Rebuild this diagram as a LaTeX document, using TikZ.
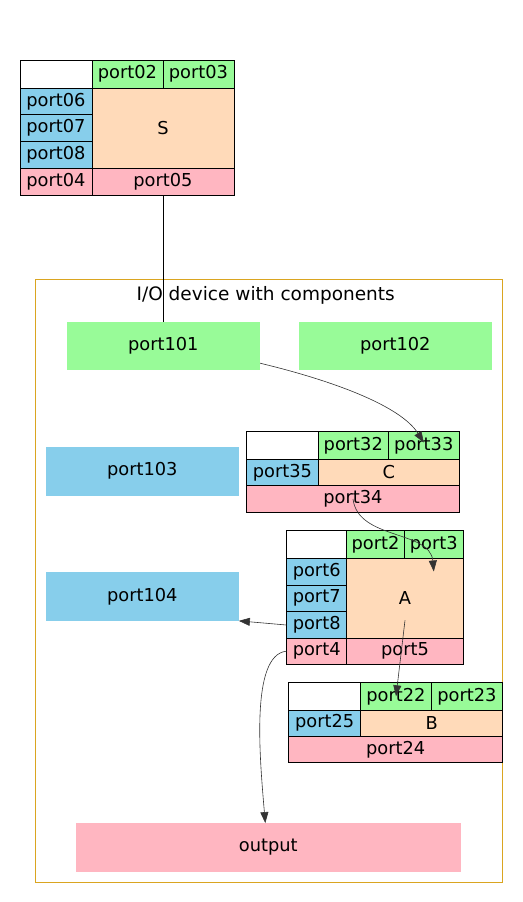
\documentclass[tikz,border=0pt]{standalone}
\usepackage{fontspec}
\setmainfont{DejaVu Sans}
\usetikzlibrary{arrows.meta,calc}
\definecolor{pgreen}{HTML}{98FB98}
\definecolor{pblue}{HTML}{87CEEB}
\definecolor{ppink}{HTML}{FFB6C1}
\definecolor{ppeach}{HTML}{FFDAB9}
\definecolor{gold}{HTML}{DAA520}
\begin{document}
\begin{tikzpicture}[x=1pt,y=-1pt,
  font=\fontsize{17.8}{20}\selectfont,
  cell/.style={draw=black, line width=0.8pt, inner sep=0pt, anchor=center},
  plain/.style={inner sep=0pt, anchor=center},
  edgeline/.style={draw=black!80, line width=0.6pt},
  arr/.style={edgeline, -{Triangle[length=11pt,width=8pt]}, black!80}]
\useasboundingbox (0,0) rectangle (522,902);

% cluster
\draw[gold, line width=0.8pt] (35,279) rectangle (502,882);
\node[plain, font=\fontsize{18.5}{20}\selectfont] (clabel) at (265.7,295) {I/O device with components};

% S record
\node[cell, fill=white, minimum width=72pt, minimum height=28pt] (s0) at (56,74) {};
\node[cell, fill=pgreen, minimum width=71pt, minimum height=28pt] (port02) at (127.5,74) {port02};
\node[cell, fill=pgreen, minimum width=71pt, minimum height=28pt] (port03) at (198.5,74) {port03};
\node[cell, fill=pblue, minimum width=72pt, minimum height=26.67pt] (port06) at (56,101.33) {port06};
\node[cell, fill=pblue, minimum width=72pt, minimum height=26.67pt] (port07) at (56,128) {port07};
\node[cell, fill=pblue, minimum width=72pt, minimum height=26.67pt] (port08) at (56,154.67) {port08};
\node[cell, fill=ppeach, minimum width=142pt, minimum height=80pt] (recS) at (163,128) {S};
\node[cell, fill=ppink, minimum width=72pt, minimum height=27pt] (port04) at (56,181.5) {port04};
\node[cell, fill=ppink, minimum width=142pt, minimum height=27pt] (port05) at (163,181.5) {port05};

% plain ports
\node[plain, fill=pgreen, minimum width=193.3pt, minimum height=48pt] (port101) at (163.3,346) {port101};
\node[plain, fill=pgreen, minimum width=193.3pt, minimum height=48pt] (port102) at (395.3,346) {port102};
\node[plain, fill=pblue, minimum width=192.7pt, minimum height=49pt] (port103) at (142.3,471.2) {port103};
\node[plain, fill=pblue, minimum width=192.7pt, minimum height=48.7pt] (port104) at (142.3,596.3) {port104};
\node[plain, fill=ppink, minimum width=384.7pt, minimum height=48.4pt] (output) at (268.3,847.5) {output};

% C record
\node[cell, fill=white, minimum width=71.6pt, minimum height=27.6pt] (c0) at (282.5,445.5) {};
\node[cell, fill=pgreen, minimum width=70pt, minimum height=27.6pt] (port32) at (353.3,445.5) {port32};
\node[cell, fill=pgreen, minimum width=71pt, minimum height=27.6pt] (port33) at (423.8,445.5) {port33};
\node[cell, fill=pblue, minimum width=71.6pt, minimum height=26.4pt] (port35) at (282.5,472.5) {port35};
\node[cell, fill=ppeach, minimum width=141pt, minimum height=26.4pt] (recC) at (388.8,472.5) {C};
\node[cell, fill=ppink, minimum width=212.6pt, minimum height=26.6pt] (port34) at (353,499) {port34};

% A record
\node[cell, fill=white, minimum width=60pt, minimum height=27.6pt] (a0) at (316.7,544.5) {};
\node[cell, fill=pgreen, minimum width=57.6pt, minimum height=27.6pt] (port2) at (375.5,544.5) {port2};
\node[cell, fill=pgreen, minimum width=59pt, minimum height=27.6pt] (port3) at (433.8,544.5) {port3};
\node[cell, fill=pblue, minimum width=60pt, minimum height=26.67pt] (port6) at (316.7,571.6) {port6};
\node[cell, fill=pblue, minimum width=60pt, minimum height=26.67pt] (port7) at (316.7,598.3) {port7};
\node[cell, fill=pblue, minimum width=60pt, minimum height=26.67pt] (port8) at (316.7,625) {port8};
\node[cell, fill=ppeach, minimum width=116.6pt, minimum height=80pt] (recA) at (405,598.3) {A};
\node[cell, fill=ppink, minimum width=60pt, minimum height=25.7pt] (port4) at (316.7,651.2) {port4};
\node[cell, fill=ppink, minimum width=116.6pt, minimum height=25.7pt] (port5) at (405,651.2) {port5};

% B record
\node[cell, fill=white, minimum width=72pt, minimum height=27.3pt] (b0) at (324.7,696.3) {};
\node[cell, fill=pgreen, minimum width=70.6pt, minimum height=27.3pt] (port22) at (396,696.3) {port22};
\node[cell, fill=pgreen, minimum width=71.4pt, minimum height=27.3pt] (port23) at (467,696.3) {port23};
\node[cell, fill=pblue, minimum width=72pt, minimum height=26pt] (port25) at (324.7,723) {port25};
\node[cell, fill=ppeach, minimum width=142pt, minimum height=26pt] (recB) at (431.7,723) {B};
\node[cell, fill=ppink, minimum width=214pt, minimum height=26.7pt] (port24) at (395.7,749.3) {port24};

% edges
\draw[black, line width=0.8pt] (port05.south) -- (port05.south |- port101.north);
\draw[arr] ($(port101.south east)+(0,-7)$) .. controls (330,380) and (400,405) .. ($(port33.center)+(0,-3)$);
\draw[arr] (port34.center) .. controls (358,540) and (430,530) .. ($(port3.center)+(0,27)$);
\draw[arr] ($(recA.center)+(0,22)$) -- (port22.center);
\draw[arr] (port8.west) -- (port104.south east);
\draw[arr] (port4.west) .. controls (250,655) and (260,760) .. ($(output.north)+(-3,0)$);
\end{tikzpicture}
\end{document}
